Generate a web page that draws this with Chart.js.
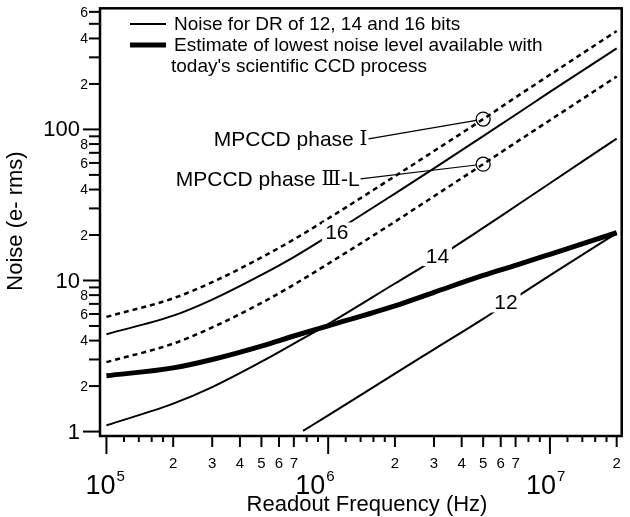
<!DOCTYPE html>
<html>
<head>
<meta charset="utf-8">
<script src="https://cdn.jsdelivr.net/npm/chart.js@4.4.0/dist/chart.umd.min.js"></script>
<style>
  html, body { margin: 0; padding: 0; background: #fff; }
</style>
</head>
<body>
<canvas id="chart" width="630" height="517"></canvas>
<script>
// Readout frequency (Hz) sample points
var freqs = [1e5, 2e5, 3e5, 5e5, 7e5, 1e6, 2e6, 3e6, 5e6, 7e6, 1e7, 2e7];

// Noise (e- rms) for each curve
var noise16 = [4.41, 5.85, 7.48, 10.9, 14.3, 19.7, 37.6, 55.2, 90.2, 125, 177, 344];
var noise14 = [1.10, 1.53, 1.97, 2.90, 3.82, 5.15, 9.55, 13.7, 22.3, 31.0, 44.0, 87.0];
var freqs12 = [7.7e5, 1e6, 2e6, 3e6, 5e6, 7e6, 1e7, 2e7];
var noise12 = [1.01, 1.28, 2.42, 3.50, 5.57, 7.70, 10.8, 20.6];
var mpccdPhase1 = [5.74, 7.62, 9.75, 14.2, 18.7, 25.7, 49.0, 71.9, 117, 163, 230, 448];
var mpccdPhase3L = [2.88, 3.82, 4.89, 7.10, 9.38, 12.9, 24.5, 36.1, 58.9, 81.7, 115, 224];
var lowestNoise = [2.34, 2.64, 3.00, 3.68, 4.29, 5.01, 6.80, 8.35, 10.8, 12.6, 14.9, 20.7];

// Marked operating points (5 MHz) on the MPCCD curves
var markerFreqs = [5e6, 5e6];
var markerNoise = [117, 58.9];
// each name is drawn in three pieces: text, roman numeral, suffix
var markerNames = ['MPCCD phase ', 'MPCCD phase '];
var markerNumerals = ['Ⅰ', 'Ⅲ'];
var markerSuffix = ['', '-L'];
// where each leader line leaves its text (right end of the text), data coords
var markerTextFreq = [1.52e6, 1.40e6];
var markerTextNoise = [86.6, 47.1];

// in-line curve labels
var bitLabels = ['16', '14', '12'];
var bitLabelFreq = [1.094e6, 3.108e6, 6.33e6];
var bitLabelNoise = [20.8, 14.5, 7.15];

// axis ticks
var xDecades = [1e5, 1e6, 1e7];
var xDecadeExp = ['5', '6', '7'];
var xDecadeShift = [9, -3, 6];
var xLabelledSteps = [2, 3, 4, 5, 6, 7];
var xPlainSteps = [1.2, 1.4, 1.6, 1.8, 8, 9];
var yDecades = [1, 10, 100];
var yDecadeLabels = ['1', '10', '100'];
var yLabelledSteps = [2, 4, 6, 8];
var yPlainSteps = [3, 5, 7, 9];

var legendLabels = [
  ['Noise for DR of 12, 14 and 16 bits'],
  ['Estimate of lowest noise level available with', "today's scientific CCD process"]
];

var FONT = '"Liberation Sans", Arial, sans-serif';
var NUMERAL_FONT = '"DejaVu Serif", "Liberation Serif", serif';

function pts(xs, ys) {
  return xs.map(function (x, i) { return { x: x, y: ys[i] }; });
}

function curve(label, xs, ys, width, dash) {
  return {
    label: label,
    data: pts(xs, ys),
    borderColor: '#000',
    borderWidth: width,
    borderDash: dash || [],
    pointRadius: 0,
    fill: false,
    cubicInterpolationMode: 'monotone'
  };
}

var paperAxes = {
  id: 'paperAxes',
  afterDatasetsDraw: function (chart) {
    var ctx = chart.ctx;
    var xs = chart.scales.x, ys = chart.scales.y;
    ctx.save();
    ctx.font = '21px ' + FONT;
    ctx.textAlign = 'center';
    ctx.textBaseline = 'middle';
    bitLabels.forEach(function (t, i) {
      var px = xs.getPixelForValue(bitLabelFreq[i]);
      var py = ys.getPixelForValue(bitLabelNoise[i]);
      var w = ctx.measureText(t).width + 6;
      ctx.fillStyle = '#fff';
      ctx.fillRect(px - w / 2, py - 10, w, 20);
      ctx.fillStyle = '#000';
      ctx.fillText(t, px, py + 1);
    });

    // annotation text + leader lines to the circled points
    ctx.textAlign = 'right';
    ctx.strokeStyle = '#000';
    ctx.lineWidth = 1.2;
    markerNames.forEach(function (t, i) {
      var tx = xs.getPixelForValue(markerTextFreq[i]);
      var ty = ys.getPixelForValue(markerTextNoise[i]);
      var cx = xs.getPixelForValue(markerFreqs[i]);
      var cy = ys.getPixelForValue(markerNoise[i]);
      var right = tx - 1;
      ctx.font = '21px ' + FONT;
      if (markerSuffix[i]) {
        ctx.fillText(markerSuffix[i], right, ty + 1);
        right -= ctx.measureText(markerSuffix[i]).width;
      }
      ctx.font = '20px ' + NUMERAL_FONT;
      ctx.fillText(markerNumerals[i], right, ty + 1);
      right -= ctx.measureText(markerNumerals[i]).width;
      ctx.font = '21px ' + FONT;
      ctx.fillText(t, right, ty + 1);
      var dx = cx - tx, dy = cy - ty;
      var len = Math.sqrt(dx * dx + dy * dy);
      ctx.beginPath();
      ctx.moveTo(tx, ty);
      ctx.lineTo(cx - dx / len * 7, cy - dy / len * 7);
      ctx.stroke();
    });
    ctx.restore();
  },
  afterDraw: function (chart) {
    var ctx = chart.ctx;
    var area = chart.chartArea;
    var xs = chart.scales.x, ys = chart.scales.y;
    ctx.save();
    ctx.strokeStyle = '#000';
    ctx.fillStyle = '#000';

    // frame
    ctx.lineWidth = 2.5;
    ctx.strokeRect(area.left, area.top, area.right - area.left, area.bottom - area.top);

    function inX(v) { return v >= xs.min && v <= xs.max; }
    function inY(v) { return v >= ys.min && v <= ys.max; }
    function tickX(v, len) {
      var p = xs.getPixelForValue(v);
      ctx.beginPath(); ctx.moveTo(p, area.bottom); ctx.lineTo(p, area.bottom + len); ctx.stroke();
      return p;
    }
    function tickY(v, len) {
      var p = ys.getPixelForValue(v);
      ctx.beginPath(); ctx.moveTo(area.left, p); ctx.lineTo(area.left - len, p); ctx.stroke();
      return p;
    }

    ctx.lineWidth = 2;
    // x axis
    ctx.textAlign = 'center';
    ctx.textBaseline = 'alphabetic';
    xDecades.forEach(function (d, i) {
      xPlainSteps.forEach(function (s) { if (inX(d * s)) tickX(d * s, 6); });
      ctx.font = '15px ' + FONT;
      xLabelledSteps.forEach(function (s) {
        if (!inX(d * s)) return;
        var p = tickX(d * s, 11);
        ctx.fillText(String(s), p, 468);
      });
      if (inX(d)) {
        var p = tickX(d, 18);
        var right = p + xDecadeShift[i];
        ctx.font = '27px ' + FONT;
        ctx.textAlign = 'right';
        ctx.fillText('10', right, 494);
        ctx.font = '15px ' + FONT;
        ctx.textAlign = 'left';
        ctx.fillText(xDecadeExp[i], right + 1, 481);
        ctx.textAlign = 'center';
      }
    });

    // y axis
    ctx.textAlign = 'right';
    ctx.textBaseline = 'middle';
    yDecades.forEach(function (d, i) {
      yPlainSteps.forEach(function (s) { if (inY(d * s)) tickY(d * s, 11); });
      ctx.font = '14px ' + FONT;
      yLabelledSteps.forEach(function (s) {
        if (!inY(d * s)) return;
        var p = tickY(d * s, 11);
        ctx.fillText(String(s), area.left - 12, p + 1);
      });
      if (inY(d)) {
        var p = tickY(d, 17);
        ctx.font = '22px ' + FONT;
        ctx.fillText(yDecadeLabels[i], area.left - 20, p + 1);
      }
    });

    // axis titles
    ctx.font = '22px ' + FONT;
    ctx.textAlign = 'center';
    ctx.textBaseline = 'alphabetic';
    ctx.fillText('Readout Frequency (Hz)', 367, 511);
    ctx.save();
    ctx.translate(22, 221);
    ctx.rotate(-Math.PI / 2);
    ctx.fillText('Noise (e- rms)', 0, 0);
    ctx.restore();

    // legend
    ctx.lineWidth = 2;
    ctx.beginPath(); ctx.moveTo(130, 24); ctx.lineTo(166, 24); ctx.stroke();
    ctx.lineWidth = 5;
    ctx.beginPath(); ctx.moveTo(130, 45); ctx.lineTo(166, 45); ctx.stroke();
    ctx.font = '19px ' + FONT;
    ctx.textAlign = 'left';
    ctx.fillText(legendLabels[0][0], 174, 30);
    ctx.fillText(legendLabels[1][0], 174, 51);
    ctx.fillText(legendLabels[1][1], 171, 72);
    ctx.restore();
  }
};

new Chart(document.getElementById('chart'), {
  type: 'line',
  data: {
    datasets: [
      curve('MPCCD phase I', freqs, mpccdPhase1, 2.5, [5, 4]),
      curve('16 bits', freqs, noise16, 2),
      curve('MPCCD phase III-L', freqs, mpccdPhase3L, 2.5, [5, 4]),
      curve('14 bits', freqs, noise14, 2),
      curve('12 bits', freqs12, noise12, 2),
      curve('Lowest noise, scientific CCD', freqs, lowestNoise, 5),
      {
        type: 'scatter',
        label: 'markers',
        data: pts(markerFreqs, markerNoise),
        pointRadius: 7,
        pointBorderWidth: 1.3,
        pointBackgroundColor: 'rgba(0,0,0,0)',
        pointBorderColor: '#000',
        showLine: false
      }
    ]
  },
  options: {
    responsive: false,
    animation: false,
    layout: { padding: { left: 100, right: 3, top: 2, bottom: 81 } },
    plugins: { legend: { display: false }, tooltip: { enabled: false } },
    scales: {
      x: { type: 'logarithmic', display: false, bounds: 'data',
           min: Math.pow(10, 4.971), max: Math.pow(10, 7.3237) },
      y: { type: 'logarithmic', display: false, bounds: 'data',
           min: Math.pow(10, -0.0294), max: Math.pow(10, 2.8017) }
    }
  },
  plugins: [paperAxes]
});
</script>
</body>
</html>
